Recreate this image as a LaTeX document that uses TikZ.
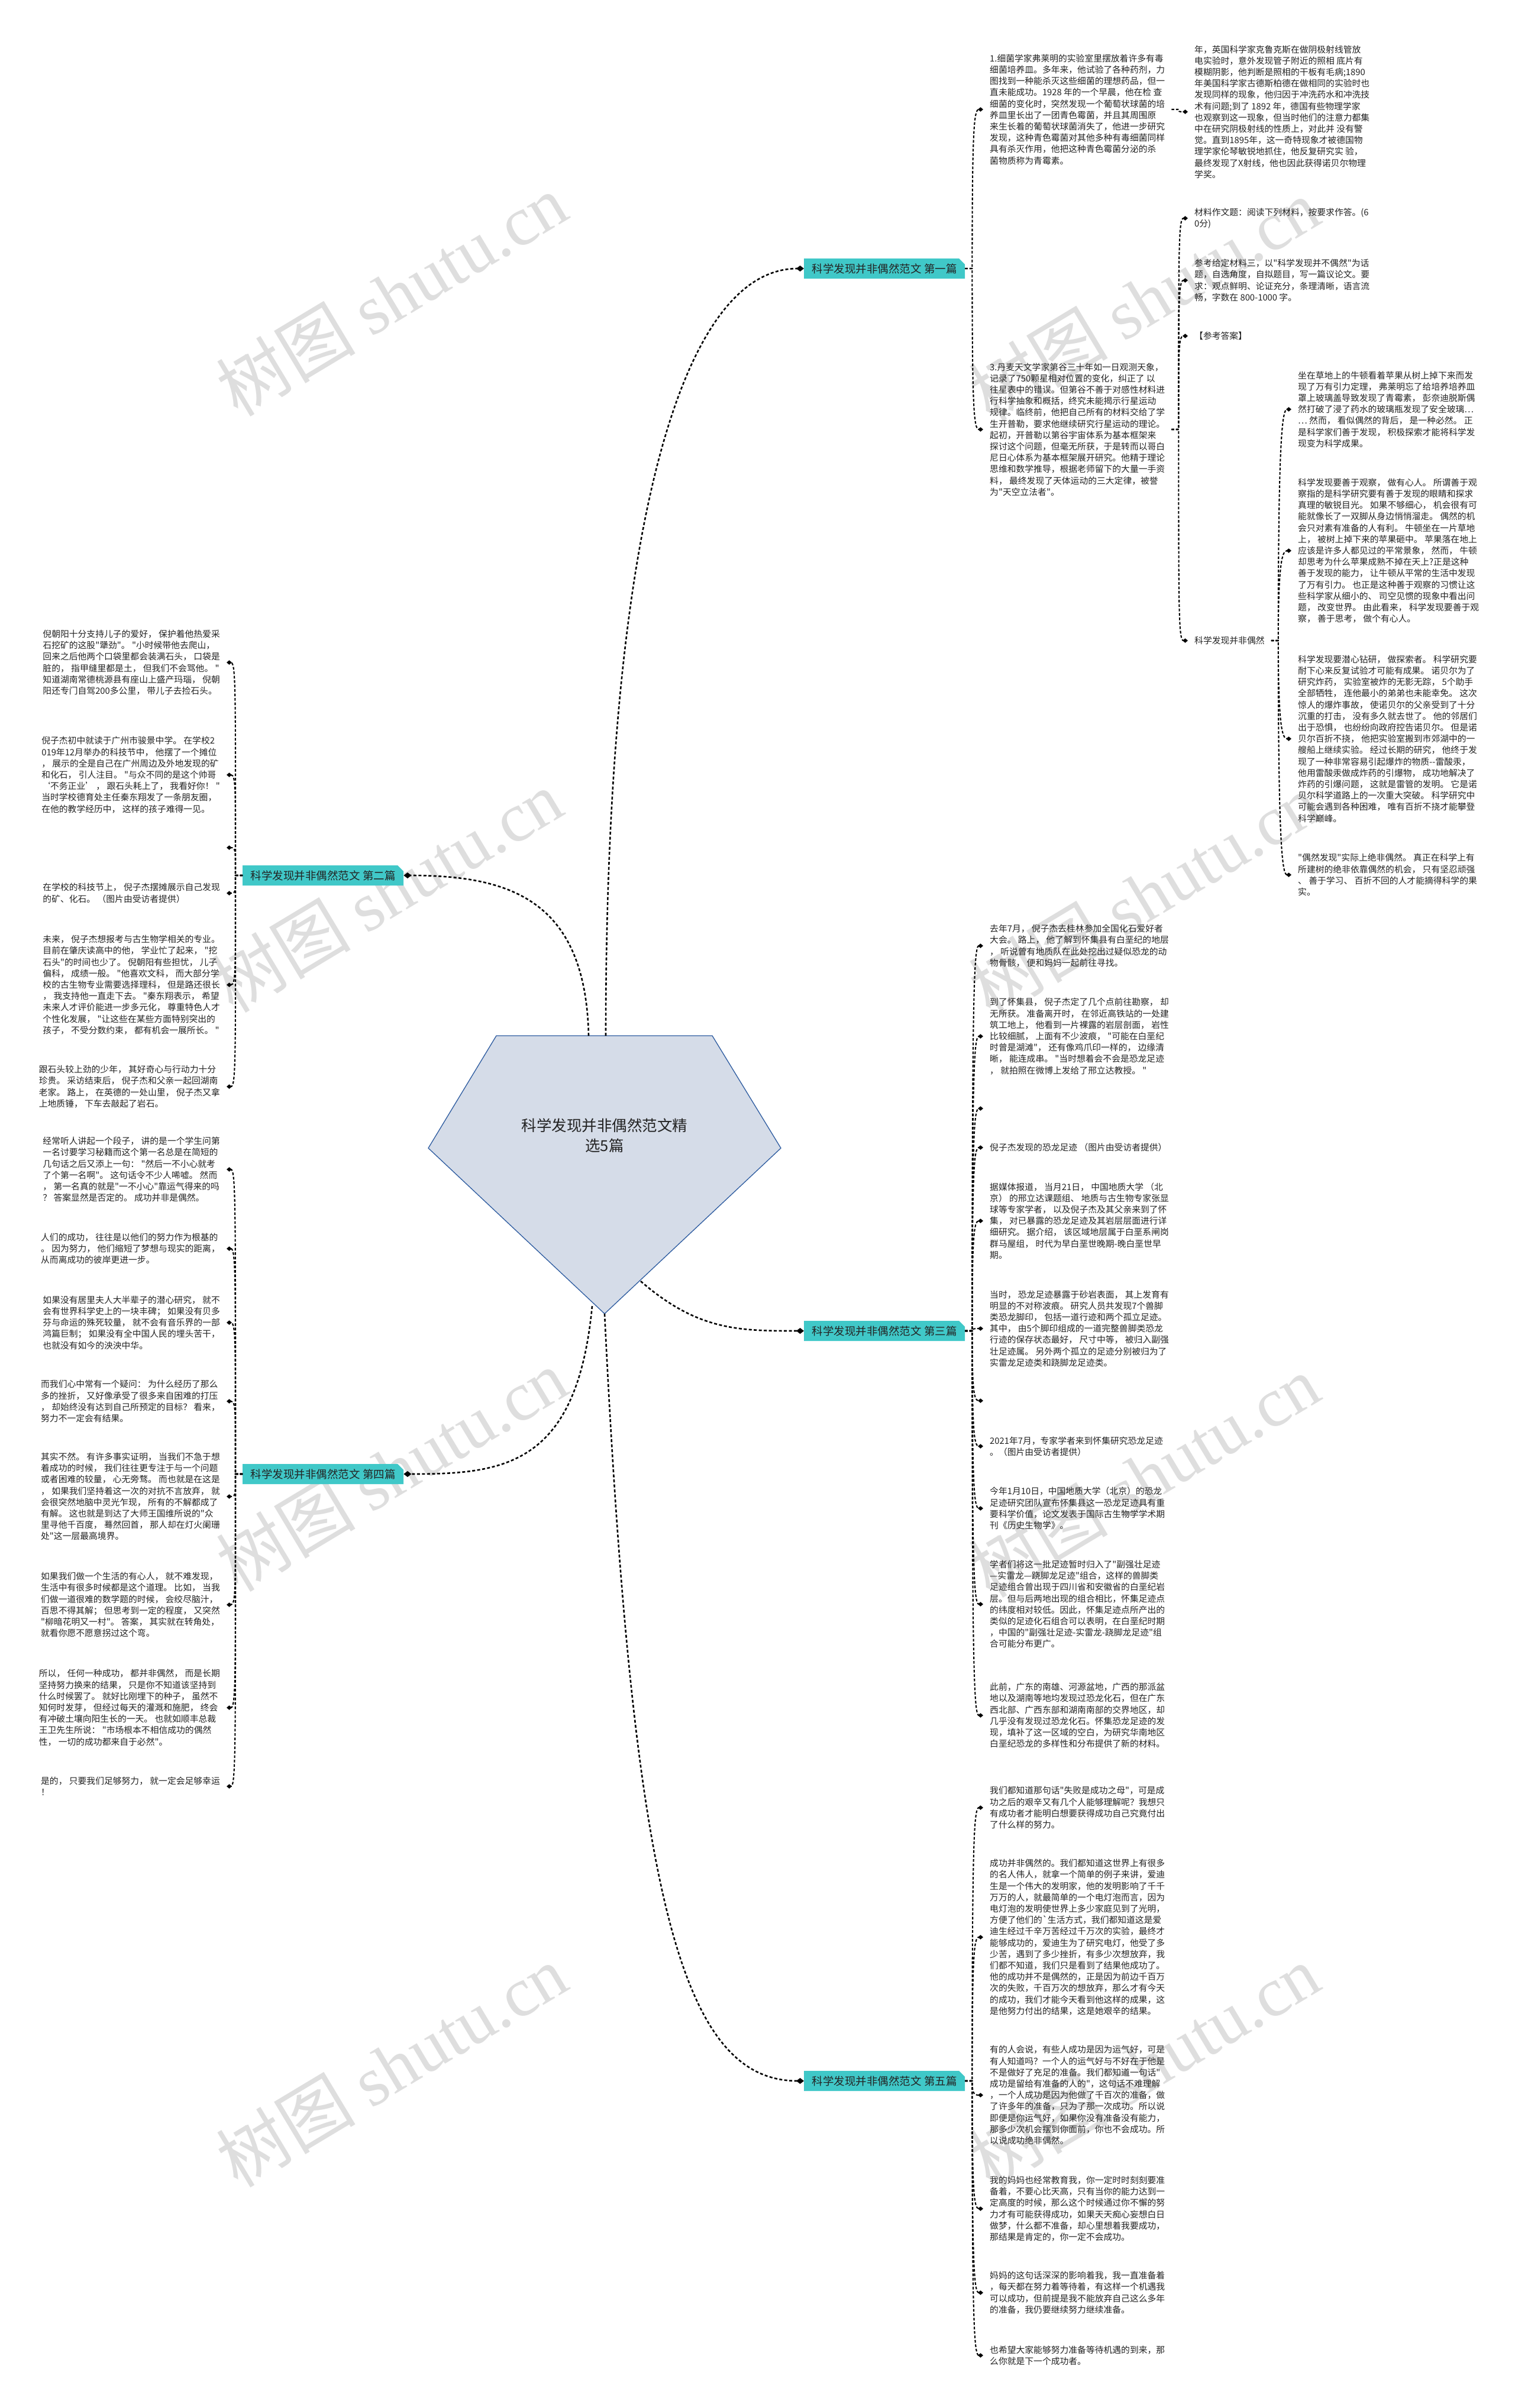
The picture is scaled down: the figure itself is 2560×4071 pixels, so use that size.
\documentclass[tikz,border=0pt]{standalone}
\usepackage{fontspec}
\setmainfont{Noto Sans CJK SC}[Ligatures=TeXOff]
\newfontfamily\wmserif{Liberation Serif}
\usetikzlibrary{arrows.meta,calc,shapes.misc}
\definecolor{teal1}{RGB}{64,200,200}
\definecolor{txt}{RGB}{35,35,35}
\definecolor{pentfill}{RGB}{213,220,232}
\definecolor{pentline}{RGB}{46,92,160}
\definecolor{wm}{RGB}{222,222,222}
\tikzset{
  mainline/.style={line width=2.6pt, dash pattern=on 5pt off 3.5pt, -{Diamond[length=13pt,width=10pt]}, black},
  leafline/.style={line width=2.1pt, dash pattern=on 4.5pt off 3pt, -{Diamond[length=9pt,width=7.5pt]}, black},
  branchbox/.style={chamfered rectangle, chamfered rectangle corners=north east, chamfered rectangle xsep=5pt, chamfered rectangle ysep=5pt, fill=teal1, minimum width=272pt, minimum height=34pt, inner sep=0pt, font=\fontsize{18.5pt}{22pt}\selectfont, text=txt},
  leafR/.style={anchor=west, inner xsep=11pt, inner ysep=0pt, align=left, font=\fontsize{14.8pt}{19.2pt}\selectfont, text=txt},
  leafL/.style={leafR, anchor=east},
  emptyR/.style={anchor=west, inner sep=0pt, minimum size=2pt},
  emptyL/.style={anchor=east, inner sep=0pt, minimum size=2pt},
  wmark/.style={text=wm, rotate=31, inner sep=0pt, font=\fontsize{118pt}{120pt}\selectfont},
  centernode/.style={align=center, text=txt, font=\fontsize{25.5pt}{34pt}\selectfont}
}
\newcommand\lnR[2]{\draw[leafline] (#1.east) -- ++(12pt,0) coordinate (sp) .. controls ($(sp)!0.85!(sp |- #2.west)$) and ($(#2.west)+(-16pt,0)$) .. (#2.west);}
\newcommand\lnL[2]{\draw[leafline] (#1.west) -- ++(-12pt,0) coordinate (sp) .. controls ($(sp)!0.85!(sp |- #2.east)$) and ($(#2.east)+(16pt,0)$) .. (#2.east);}
\begin{document}
\begin{tikzpicture}[x=1pt,y=1pt]
\useasboundingbox (0,0) rectangle (2560,-4071);
\fill[white] (0,0) rectangle (2560,-4071);

% watermarks
\node[wmark] (wm1) at (662,-498) {树图 {\wmserif shutu.cn}};
\node[wmark] (wm2) at (1934,-506) {树图 {\wmserif shutu.cn}};
\node[wmark] (wm3) at (654,-1506) {树图 {\wmserif shutu.cn}};
\node[wmark] (wm4) at (1934,-1512) {树图 {\wmserif shutu.cn}};
\node[wmark] (wm5) at (662,-2485) {树图 {\wmserif shutu.cn}};
\node[wmark] (wm6) at (1934,-2495) {树图 {\wmserif shutu.cn}};
\node[wmark] (wm7) at (662,-3492) {树图 {\wmserif shutu.cn}};
\node[wmark] (wm8) at (1934,-3492) {树图 {\wmserif shutu.cn}};

% central pentagon
\filldraw[fill=pentfill, draw=pentline, line width=1.3pt] (839,-1751) -- (1204,-1751) -- (1320,-1941) -- (1022,-2221) -- (724,-1941) -- cycle;
\node[centernode] (center) at (1022,-1920) {科学发现并非偶然范文精\\选5篇};
\coordinate (s1) at (1024,-1751);
\coordinate (s2) at (995,-1751);
\coordinate (s3) at (1083,-2166);
\coordinate (s4) at (1001,-2208);
\coordinate (s5) at (1022,-2221);

% branch boxes
\node[branchbox, anchor=west] (b1) at (1359,-454) {科学发现并非偶然范文 第一篇};
\node[branchbox, anchor=west] (b2) at (410,-1480) {科学发现并非偶然范文 第二篇};
\node[branchbox, anchor=west] (b3) at (1359,-2250) {科学发现并非偶然范文 第三篇};
\node[branchbox, anchor=west] (b4) at (410,-2492) {科学发现并非偶然范文 第四篇};
\node[branchbox, anchor=west] (b5) at (1359,-3518) {科学发现并非偶然范文 第五篇};

\draw[mainline] (s1) .. controls (1024,-900) and (1150,-454) .. (b1.west);
\draw[mainline] (s2) .. controls (990,-1520) and (860,-1480) .. (b2.east);
\draw[mainline] (s3) .. controls (1180,-2250) and (1250,-2250) .. (b3.west);
\draw[mainline] (s4) .. controls (975,-2480) and (850,-2492) .. (b4.east);
\draw[mainline] (s5) .. controls (1070,-3200) and (1150,-3518) .. (b5.west);

% ---------- 第一篇 ----------
\node[leafR] (l1a) at (1662,-185) {1.细菌学家弗莱明的实验室里摆放着许多有毒\\细菌培养皿。多年来，他试验了各种药剂，力\\图找到一种能杀灭这些细菌的理想药品，但一\\直未能成功。1928 年的一个早晨，他在检 查\\细菌的变化时，突然发现一个葡萄状球菌的培\\养皿里长出了一团青色霉菌，并且其周围原\\来生长着的葡萄状球菌消失了，他进一步研究\\发现，这种青色霉菌对其他多种有毒细菌同样\\ 具有杀灭作用，他把这种青色霉菌分泌的杀\\菌物质称为青霉素。};
\node[leafR] (l1b) at (2008,-189) { 年，英国科学家克鲁克斯在做阴极射线管放\\电实验时，意外发现管子附近的照相 底片有\\模糊阴影，他判断是照相的干板有毛病;1890\\年美国科学家古德斯柏德在做相同的实验时也\\发现同样的现象，他归因于冲洗药水和冲洗技\\术有问题;到了 1892 年，德国有些物理学家\\也观察到这一现象，但当时他们的注意力都集\\中在研究阴极射线的性质上，对此并 没有警\\觉。直到1895年，这一奇特现象才被德国物\\理学家伦琴敏锐地抓住，他反复研究实 验，\\最终发现了X射线，他也因此获得诺贝尔物理\\学奖。};
\node[leafR] (l1c) at (1662,-726) {3.丹麦天文学家第谷三十年如一日观测天象，\\记录了750颗星相对位置的变化，纠正了 以\\往星表中的错误。但第谷不善于对感性材料进\\行科学抽象和概括，终究未能揭示行星运动\\规律。临终前，他把自己所有的材料交给了学\\生开普勒，要求他继续研究行星运动的理论。\\ 起初，开普勒以第谷宇宙体系为基本框架来\\探讨这个问题，但毫无所获，于是转而以哥白\\尼日心体系为基本框架展开研究。他精于理论\\思维和数学推导，根据老师留下的大量一手资\\料， 最终发现了天体运动的三大定律，被誉\\为"天空立法者"。};
\node[leafR] (m1) at (2008,-369) {材料作文题：阅读下列材料，按要求作答。(6\\0分)};
\node[leafR] (m2) at (2008,-474) {参考给定材料三，以"科学发现并不偶然"为话\\题，自选角度，自拟题目，写一篇议论文。要\\求：观点鲜明、论证充分，条理清晰，语言流\\畅，字数在 800-1000 字。};
\node[leafR] (m3) at (2008,-568) {【参考答案】};
\node[leafR] (k) at (2008,-1083) {科学发现并非偶然};
\node[leafR] (r1) at (2183,-692) {坐在草地上的牛顿看着苹果从树上掉下来而发\\现了万有引力定理， 弗莱明忘了给培养培养皿\\罩上玻璃盖导致发现了青霉素， 彭奈迪脱斯偶\\然打破了浸了药水的玻璃瓶发现了安全玻璃…\\… 然而， 看似偶然的背后， 是一种必然。 正\\是科学家们善于发现， 积极探索才能将科学发\\现变为科学成果。};
\node[leafR] (r2) at (2183,-931) {科学发现要善于观察， 做有心人。 所谓善于观\\察指的是科学研究要有善于发现的眼睛和探求\\真理的敏锐目光。 如果不够细心， 机会很有可\\能就像长了一双脚从身边悄悄溜走。 偶然的机\\会只对素有准备的人有利。 牛顿坐在一片草地\\上， 被树上掉下来的苹果砸中。 苹果落在地上\\应该是许多人都见过的平常景象， 然而， 牛顿\\却思考为什么苹果成熟不掉在天上?正是这种\\善于发现的能力， 让牛顿从平常的生活中发现\\了万有引力。 也正是这种善于观察的习惯让这\\些科学家从细小的、 司空见惯的现象中看出问\\题， 改变世界。 由此看来， 科学发现要善于观\\察， 善于思考， 做个有心人。};
\node[leafR] (r3) at (2183,-1249) {科学发现要潜心钻研， 做探索者。 科学研究要\\耐下心来反复试验才可能有成果。 诺贝尔为了\\研究炸药， 实验室被炸的无影无踪， 5个助手\\全部牺牲， 连他最小的弟弟也未能幸免。 这次\\惊人的爆炸事故， 使诺贝尔的父亲受到了十分\\沉重的打击， 没有多久就去世了。 他的邻居们\\出于恐惧， 也纷纷向政府控告诺贝尔。 但是诺\\贝尔百折不挠， 他把实验室搬到市郊湖中的一\\艘船上继续实验。 经过长期的研究， 他终于发\\现了一种非常容易引起爆炸的物质--雷酸汞，\\他用雷酸汞做成炸药的引爆物， 成功地解决了\\炸药的引爆问题， 这就是雷管的发明。 它是诺\\贝尔科学道路上的一次重大突破。 科学研究中\\可能会遇到各种困难， 唯有百折不挠才能攀登\\科学巅峰。};
\node[leafR] (r4) at (2183,-1479) {"偶然发现"实际上绝非偶然。 真正在科学上有\\所建树的绝非依靠偶然的机会， 只有坚忍顽强\\、 善于学习、 百折不回的人才能摘得科学的果\\实。};
\lnR{b1}{l1a}
\lnR{b1}{l1c}
\lnR{l1a}{l1b}
\lnR{l1c}{m1}
\lnR{l1c}{m2}
\lnR{l1c}{m3}
\lnR{l1c}{k}
\lnR{k}{r1}
\lnR{k}{r2}
\lnR{k}{r3}
\lnR{k}{r4}

% ---------- 第二篇 ----------
\node[leafL] (b2a) at (383,-1120) {倪朝阳十分支持儿子的爱好， 保护着他热爱采\\石挖矿的这股"犟劲"。 "小时候带他去爬山，\\回来之后他两个口袋里都会装满石头， 口袋是\\脏的， 指甲缝里都是土， 但我们不会骂他。 "\\知道湖南常德桃源县有座山上盛产玛瑙， 倪朝\\阳还专门自驾200多公里， 带儿子去捡石头。};
\node[leafL] (b2b) at (383,-1310) {倪子杰初中就读于广州市骏景中学。 在学校2\\019年12月举办的科技节中， 他摆了一个摊位\\， 展示的全是自己在广州周边及外地发现的矿\\和化石， 引人注目。 "与众不同的是这个帅哥\\ ‘不务正业’ ， 跟石头耗上了， 我看好你！ "\\当时学校德育处主任秦东翔发了一条朋友圈，\\在他的教学经历中， 这样的孩子难得一见。};
\node[emptyL] (b2c) at (383,-1433) {};
\node[leafL] (b2d) at (383,-1510) {在学校的科技节上， 倪子杰摆摊展示自己发现\\的矿、化石。 （图片由受访者提供）};
\node[leafL] (b2e) at (383,-1665) {未来， 倪子杰想报考与古生物学相关的专业。\\目前在肇庆读高中的他， 学业忙了起来， "挖\\石头"的时间也少了。 倪朝阳有些担忧， 儿子\\偏科， 成绩一般。 "他喜欢文科， 而大部分学\\校的古生物专业需要选择理科， 但是路还很长\\， 我支持他一直走下去。 "秦东翔表示， 希望\\未来人才评价能进一步多元化， 尊重特色人才\\个性化发展， "让这些在某些方面特别突出的\\孩子， 不受分数约束， 都有机会一展所长。 "};
\node[leafL] (b2f) at (383,-1837) {跟石头较上劲的少年， 其好奇心与行动力十分\\珍贵。 采访结束后， 倪子杰和父亲一起回湖南\\老家。 路上， 在英德的一处山里， 倪子杰又拿\\上地质锤， 下车去敲起了岩石。};
\lnL{b2}{b2a}
\lnL{b2}{b2b}
\lnL{b2}{b2c}
\lnL{b2}{b2d}
\lnL{b2}{b2e}
\lnL{b2}{b2f}

% ---------- 第四篇 ----------
\node[leafL] (b4a) at (383,-1977) {经常听人讲起一个段子， 讲的是一个学生问第\\一名讨要学习秘籍而这个第一名总是在简短的\\几句话之后又添上一句： "然后一不小心就考\\了个第一名啊"。 这句话令不少人唏嘘。 然而\\， 第一名真的就是"一不小心"靠运气得来的吗\\？ 答案显然是否定的。 成功并非是偶然。};
\node[leafL] (b4b) at (383,-2111) {人们的成功， 往往是以他们的努力作为根基的\\。 因为努力， 他们缩短了梦想与现实的距离，\\从而离成功的彼岸更进一步。};
\node[leafL] (b4c) at (383,-2236) {如果没有居里夫人大半辈子的潜心研究， 就不\\会有世界科学史上的一块丰碑； 如果没有贝多\\芬与命运的殊死较量， 就不会有音乐界的一部\\鸿篇巨制； 如果没有全中国人民的埋头苦干，\\也就没有如今的泱泱中华。};
\node[leafL] (b4d) at (383,-2369) {而我们心中常有一个疑问： 为什么经历了那么\\多的挫折， 又好像承受了很多来自困难的打压\\， 却始终没有达到自己所预定的目标？ 看来，\\努力不一定会有结果。};
\node[leafL] (b4e) at (383,-2530) {其实不然。 有许多事实证明， 当我们不急于想\\着成功的时候， 我们往往更专注于与一个问题\\或者困难的较量， 心无旁骛。 而也就是在这是\\， 如果我们坚持着这一次的对抗不言放弃， 就\\会很突然地脑中灵光乍现， 所有的不解都成了\\有解。 这也就是到达了大师王国维所说的"众\\里寻他千百度， 蓦然回首， 那人却在灯火阑珊\\处"这一层最高境界。};
\node[leafL] (b4f) at (383,-2713) {如果我们做一个生活的有心人， 就不难发现，\\生活中有很多时候都是这个道理。 比如， 当我\\们做一道很难的数学题的时候， 会绞尽脑汁，\\百思不得其解； 但思考到一定的程度， 又突然\\"柳暗花明又一村"。 答案， 其实就在转角处，\\就看你愿不愿意拐过这个弯。};
\node[leafL] (b4g) at (383,-2887) {所以， 任何一种成功， 都并非偶然， 而是长期\\坚持努力换来的结果， 只是你不知道该坚持到\\什么时候罢了。 就好比刚埋下的种子， 虽然不\\知何时发芽， 但经过每天的灌溉和施肥， 终会\\有冲破土壤向阳生长的一天。 也就如顺丰总裁\\王卫先生所说： "市场根本不相信成功的偶然\\性， 一切的成功都来自于必然"。};
\node[leafL] (b4h) at (383,-3020) {是的， 只要我们足够努力， 就一定会足够幸运\\！};
\lnL{b4}{b4a}
\lnL{b4}{b4b}
\lnL{b4}{b4c}
\lnL{b4}{b4d}
\lnL{b4}{b4e}
\lnL{b4}{b4f}
\lnL{b4}{b4g}
\lnL{b4}{b4h}

% ---------- 第三篇 ----------
\node[leafR] (b3a) at (1662,-1599) {去年7月， 倪子杰去桂林参加全国化石爱好者\\大会。 路上， 他了解到怀集县有白垩纪的地层\\， 听说曾有地质队在此处挖出过疑似恐龙的动\\物骨骸， 便和妈妈一起前往寻找。};
\node[leafR] (b3b) at (1662,-1752) {到了怀集县， 倪子杰定了几个点前往勘察， 却\\无所获。 准备离开时， 在邻近高铁站的一处建\\筑工地上， 他看到一片裸露的岩层剖面， 岩性\\比较细腻， 上面有不少波痕， "可能在白垩纪\\时曾是湖滩"， 还有像鸡爪印一样的， 边缘清\\晰， 能连成串。 "当时想着会不会是恐龙足迹\\， 就拍照在微博上发给了邢立达教授。 "};
\node[emptyR] (b3c) at (1662,-1874) {};
\node[leafR] (b3d) at (1662,-1940) {倪子杰发现的恐龙足迹 （图片由受访者提供）};
\node[leafR] (b3e) at (1662,-2064) {据媒体报道， 当月21日， 中国地质大学 （北\\京） 的邢立达课题组、 地质与古生物专家张显\\球等专家学者， 以及倪子杰及其父亲来到了怀\\集， 对已暴露的恐龙足迹及其岩层层面进行详\\细研究。 据介绍， 该区域地层属于白垩系闸岗\\群马屋组， 时代为早白垩世晚期-晚白垩世早\\期。};
\node[leafR] (b3f) at (1662,-2246) {当时， 恐龙足迹暴露于砂岩表面， 其上发育有\\明显的不对称波痕。 研究人员共发现7个兽脚\\类恐龙脚印， 包括一道行迹和两个孤立足迹。\\其中， 由5个脚印组成的一道完整兽脚类恐龙\\行迹的保存状态最好， 尺寸中等， 被归入副强\\壮足迹属。 另外两个孤立的足迹分别被归为了\\实雷龙足迹类和跷脚龙足迹类。};
\node[emptyR] (b3g) at (1662,-2368) {};
\node[leafR] (b3h) at (1662,-2445) {2021年7月，专家学者来到怀集研究恐龙足迹\\。（图片由受访者提供）};
\node[leafR] (b3i) at (1662,-2550) {今年1月10日，中国地质大学（北京）的恐龙\\足迹研究团队宣布怀集县这一恐龙足迹具有重\\要科学价值，论文发表于国际古生物学学术期\\刊《历史生物学》。};
\node[leafR] (b3j) at (1662,-2712) {学者们将这一批足迹暂时归入了"副强壮足迹\\—实雷龙—跷脚龙足迹"组合，这样的兽脚类\\足迹组合曾出现于四川省和安徽省的白垩纪岩\\层。但与后两地出现的组合相比，怀集足迹点\\的纬度相对较低。因此，怀集足迹点所产出的\\类似的足迹化石组合可以表明，在白垩纪时期\\，中国的"副强壮足迹-实雷龙-跷脚龙足迹"组\\合可能分布更广。};
\node[leafR] (b3k) at (1662,-2900) {此前，广东的南雄、河源盆地，广西的那派盆\\地以及湖南等地均发现过恐龙化石，但在广东\\西北部、广西东部和湖南南部的交界地区，却\\几乎没有发现过恐龙化石。怀集恐龙足迹的发\\现，填补了这一区域的空白，为研究华南地区\\白垩纪恐龙的多样性和分布提供了新的材料。};
\lnR{b3}{b3a}
\lnR{b3}{b3b}
\lnR{b3}{b3c}
\lnR{b3}{b3d}
\lnR{b3}{b3e}
\lnR{b3}{b3f}
\lnR{b3}{b3g}
\lnR{b3}{b3h}
\lnR{b3}{b3i}
\lnR{b3}{b3j}
\lnR{b3}{b3k}

% ---------- 第五篇 ----------
\node[leafR] (b5a) at (1662,-3056) {我们都知道那句话"失败是成功之母"，可是成\\功之后的艰辛又有几个人能够理解呢？我想只\\有成功者才能明白想要获得成功自己究竟付出\\了什么样的努力。};
\node[leafR] (b5b) at (1662,-3275) {成功并非偶然的。我们都知道这世界上有很多\\的名人伟人，就拿一个简单的例子来讲，爱迪\\生是一个伟大的发明家，他的发明影响了千千\\万万的人，就最简单的一个电灯泡而言，因为\\电灯泡的发明使世界上多少家庭见到了光明，\\方便了他们的`生活方式，我们都知道这是爱\\迪生经过千辛万苦经过千万次的实验，最终才\\能够成功的，爱迪生为了研究电灯，他受了多\\少苦，遇到了多少挫折，有多少次想放弃，我\\们都不知道，我们只是看到了结果他成功了。\\他的成功并不是偶然的，正是因为前边千百万\\次的失败，千百万次的想放弃，那么才有今天\\的成功，我们才能今天看到他这样的成果，这\\是他努力付出的结果，这是她艰辛的结果。};
\node[leafR] (b5c) at (1662,-3542) {有的人会说，有些人成功是因为运气好，可是\\有人知道吗？一个人的运气好与不好在于他是\\不是做好了充足的准备。我们都知道一句话"\\成功是留给有准备的人的"，这句话不难理解\\，一个人成功是因为他做了千百次的准备，做\\了许多年的准备，只为了那一次成功。所以说\\即便是你运气好，如果你没有准备没有能力，\\那多少次机会摆到你面前，你也不会成功。所\\以说成功绝非偶然。};
\node[leafR] (b5d) at (1662,-3734) {我的妈妈也经常教育我，你一定时时刻刻要准\\备着，不要心比天高，只有当你的能力达到一\\定高度的时候，那么这个时候通过你不懈的努\\力才有可能获得成功，如果天天痴心妄想白日\\做梦，什么都不准备，却心里想着我要成功，\\那结果是肯定的，你一定不会成功。};
\node[leafR] (b5e) at (1662,-3876) {妈妈的这句话深深的影响着我，我一直准备着\\，每天都在努力着等待着，有这样一个机遇我\\可以成功，但前提是我不能放弃自己这么多年\\的准备，我仍要继续努力继续准备。};
\node[leafR] (b5f) at (1662,-3982) {也希望大家能够努力准备等待机遇的到来，那\\么你就是下一个成功者。};
\lnR{b5}{b5a}
\lnR{b5}{b5b}
\lnR{b5}{b5c}
\lnR{b5}{b5d}
\lnR{b5}{b5e}
\lnR{b5}{b5f}
\end{tikzpicture}
\end{document}
